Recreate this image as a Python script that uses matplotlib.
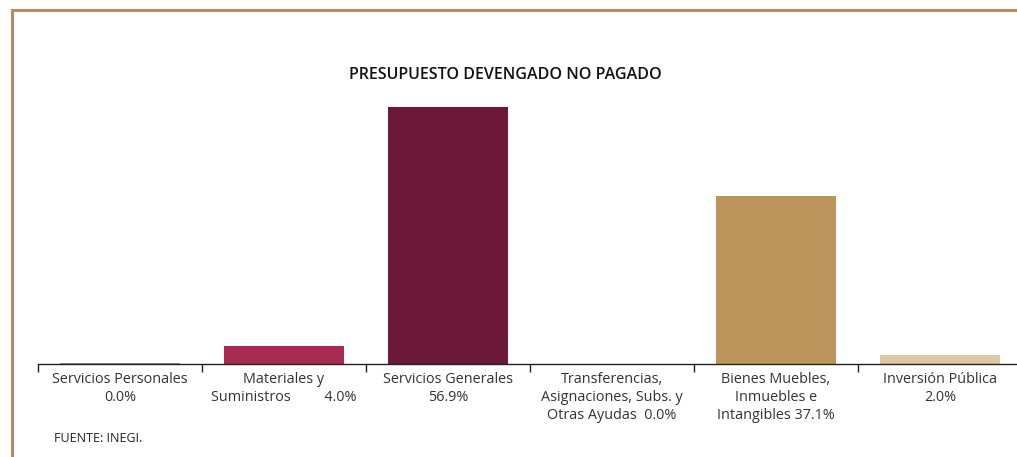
import matplotlib.pyplot as plt
import numpy as np

# datos
categorias = [
    "Servicios Personales\n0.0%",
    "Materiales y\nSuministros         4.0%",
    "Servicios Generales\n56.9%",
    "Transferencias,\nAsignaciones, Subs. y\nOtras Ayudas  0.0%",
    "Bienes Muebles,\nInmuebles e\nIntangibles 37.1%",
    "Inversión Pública\n2.0%",
]
valores = [0.15, 4.0, 56.9, 0.0, 37.1, 2.0]
colores = ["#8E8E8E", "#A82A52", "#6B1839", "#FFFFFF", "#BC955C", "#DCC8A2"]

titulo = "PRESUPUESTO DEVENGADO NO PAGADO"
fuente = "FUENTE: INEGI."

plt.rcParams["font.family"] = ["Open Sans", "DejaVu Sans"]

fig = plt.figure(figsize=(10.17, 4.57), dpi=100)
fig.patch.set_facecolor("white")

# marco
W, H = 1017, 457
fig.add_artist(plt.Line2D([12 / W, 1.0], [1 - 10 / H, 1 - 10 / H],
                          color="#B08E62", lw=2.2, transform=fig.transFigure))
fig.add_artist(plt.Line2D([12 / W, 12 / W], [0, 1 - 10 / H],
                          color="#B08E62", lw=2.2, transform=fig.transFigure))

ax = fig.add_axes([38 / W, 93 / H, 984 / W, (364 - 107) / H])
x = np.arange(len(valores))
ax.bar(x, valores, width=0.73, color=colores, zorder=2)

ax.set_xlim(-0.5, len(valores) - 0.5)
ax.set_ylim(0, 56.9)
for s in ["top", "right", "left"]:
    ax.spines[s].set_visible(False)
ax.spines["bottom"].set_color("#222222")
ax.spines["bottom"].set_linewidth(1.0)
ax.set_yticks([])

ax.set_xticks(x)
ax.set_xticklabels(categorias, fontsize=10.4, color="#333333", linespacing=1.28)
ax.tick_params(axis="x", which="major", length=0, pad=6)
ax.set_xticks(np.arange(-0.5, len(valores), 1.0), minor=True)
ax.tick_params(axis="x", which="minor", length=6, width=1.0, color="#222222")

fig.text(505 / W, 1 - 75 / H, titulo, ha="center", va="center",
         fontsize=11.5, color="#111111", fontweight="semibold")
fig.text(54 / W, 1 - 438 / H, fuente, ha="left", va="center",
         fontsize=9, color="#222222")

fig.savefig("out.png", dpi=100)
